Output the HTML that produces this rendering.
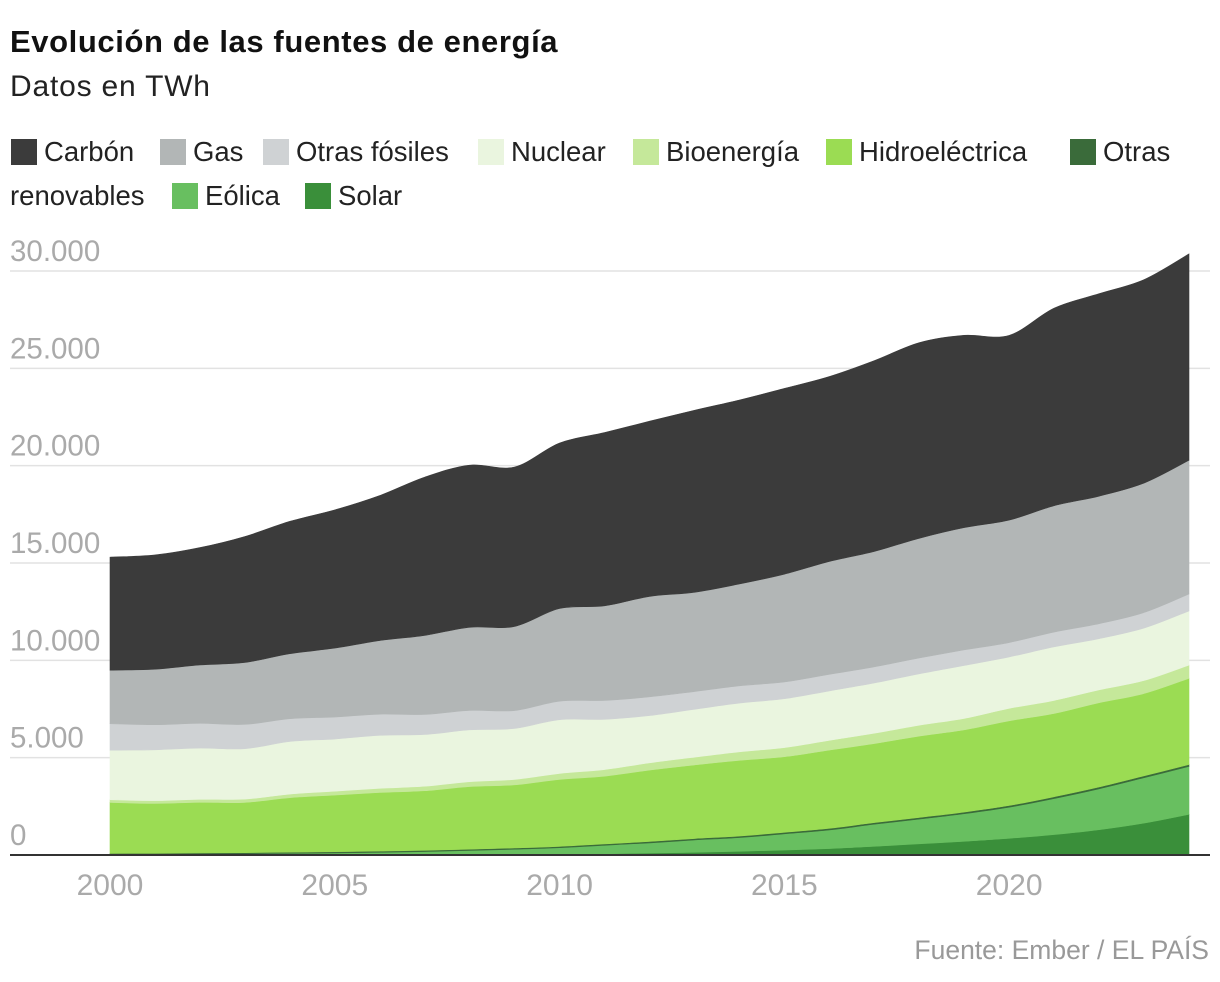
<!DOCTYPE html>
<html><head><meta charset="utf-8"><style>
body{margin:0;background:#fff;font-family:"Liberation Sans",sans-serif;}
#wrap{position:relative;width:1220px;height:982px;overflow:hidden}
.t{position:absolute;white-space:nowrap}
.sq{position:absolute;width:26px;height:26px}
.lt{position:absolute;font-size:27.5px;color:#222;line-height:26px;white-space:nowrap}
</style></head><body>
<div id="wrap">
<div class="t" style="left:10px;top:24px;font-size:31px;font-weight:bold;color:#111;letter-spacing:0.6px">Evolución de las fuentes de energía</div>
<div class="t" style="left:10px;top:70px;font-size:30px;color:#222;letter-spacing:0.8px">Datos en TWh</div>
<div>
<div class="sq" style="left:11px;top:139px;background:#3b3b3b"></div><div class="lt" style="left:44px;top:139px">Carbón</div>
<div class="sq" style="left:160px;top:139px;background:#b2b6b6"></div><div class="lt" style="left:193px;top:139px">Gas</div>
<div class="sq" style="left:263px;top:139px;background:#cfd2d4"></div><div class="lt" style="left:296px;top:139px">Otras fósiles</div>
<div class="sq" style="left:478px;top:139px;background:#eaf5df"></div><div class="lt" style="left:511px;top:139px">Nuclear</div>
<div class="sq" style="left:633px;top:139px;background:#c5e89a"></div><div class="lt" style="left:666px;top:139px">Bioenergía</div>
<div class="sq" style="left:826px;top:139px;background:#9bdc53"></div><div class="lt" style="left:859px;top:139px">Hidroeléctrica</div>
<div class="sq" style="left:1070px;top:139px;background:#3a6b3a"></div><div class="lt" style="left:1103px;top:139px">Otras</div>
<div class="lt" style="left:10px;top:183px">renovables</div>
<div class="sq" style="left:172px;top:183px;background:#68bf60"></div><div class="lt" style="left:205px;top:183px">Eólica</div>
<div class="sq" style="left:305px;top:183px;background:#3a8f3a"></div><div class="lt" style="left:338px;top:183px">Solar</div>
</div>
<svg id="plot" width="1220" height="982" style="position:absolute;left:0;top:0"></svg>
<div class="t" style="right:11px;top:935px;font-size:26.5px;color:#999">Fuente: Ember / EL PAÍS</div>
</div>
<script>
const years=[2000,2001,2002,2003,2004,2005,2006,2007,2008,2009,2010,2011,2012,2013,2014,2015,2016,2017,2018,2019,2020,2021,2022,2023,2024];
const solar=[1,1,2,3,3,4,6,8,12,20,32,63,100,136,190,256,329,445,575,701,856,1050,1300,1640,2090];
const wind=[31,38,52,63,85,104,133,170,220,276,342,437,521,635,706,831,958,1135,1268,1418,1598,1850,2100,2330,2460];
const otherRen=[50,50,52,55,57,60,62,63,65,66,68,70,72,75,77,80,82,85,86,88,90,92,94,96,98];
const hydro=[2620,2560,2600,2580,2800,2910,3010,3060,3220,3240,3440,3480,3670,3780,3890,3880,4020,4060,4180,4220,4350,4280,4330,4230,4430];
const bio=[140,145,155,170,185,200,215,230,250,280,310,340,370,400,440,470,500,530,560,590,640,670,660,670,680];
const nuclear=[2540,2610,2630,2590,2700,2680,2720,2660,2660,2620,2760,2580,2430,2460,2500,2510,2540,2580,2640,2720,2640,2750,2630,2690,2780];
const otherFossil=[1360,1290,1270,1250,1170,1130,1090,1030,1000,920,950,970,960,910,890,860,850,830,810,800,740,760,770,800,870];
const gas=[2750,2850,3000,3180,3340,3540,3780,4060,4270,4320,4760,4860,5160,5100,5230,5540,5800,5930,6150,6280,6290,6490,6550,6650,6870];
const coal=[5810,5870,6030,6470,6800,7100,7450,8130,8330,8190,8500,8900,9000,9350,9450,9540,9500,9800,10050,9880,9490,10150,10400,10450,10600];
const yTicks=[0,5000,10000,15000,20000,25000,30000];
const yTickLabels=["0","5.000","10.000","15.000","20.000","25.000","30.000"];
const xTicks=[2000,2005,2010,2015,2020];

const NS="http://www.w3.org/2000/svg";
const svg=document.getElementById('plot');
const x=v=>110+(v-2000)*(1189-110)/24;
const y=v=>855-v*(855-271)/30000;
function mk(t,a){const e=document.createElementNS(NS,t);for(const k in a)e.setAttribute(k,a[k]);return e;}
yTicks.forEach((v,i)=>{
  if(v>0){const l=mk('line',{x1:10,x2:1210,y1:y(v),y2:y(v),stroke:'#e2e2e2','stroke-width':1.5});
  
  
  svg.appendChild(l);}
});
const series=[
 ['solar',solar,'#3a8f3a'],['eolica',wind,'#68bf60'],['otras-renovables',otherRen,'#3a6b3a'],
 ['hidroelectrica',hydro,'#9bdc53'],['bioenergia',bio,'#c5e89a'],['nuclear',nuclear,'#eaf5df'],
 ['otras-fosiles',otherFossil,'#cfd2d4'],['gas',gas,'#b2b6b6'],['carbon',coal,'#3b3b3b']];
function curve(pts){
  let d='';
  for(let i=0;i<pts.length-1;i++){
    const p0=pts[Math.max(0,i-1)],p1=pts[i],p2=pts[i+1],p3=pts[Math.min(pts.length-1,i+2)];
    const c1=[p1[0]+(p2[0]-p0[0])/6,p1[1]+(p2[1]-p0[1])/6];
    const c2=[p2[0]-(p3[0]-p1[0])/6,p2[1]-(p3[1]-p1[1])/6];
    d+=` C${c1[0]},${c1[1]} ${c2[0]},${c2[1]} ${p2[0]},${p2[1]}`;
  }
  return d;
}
let base=years.map(()=>0);
series.forEach(([name,vals,col])=>{
  const top=base.map((b,i)=>b+vals[i]);
  const tp=years.map((yr,i)=>[x(yr),y(top[i])]);
  const bp=years.map((yr,i)=>[x(yr),y(base[i])]).reverse();
  const d=`M${tp[0][0]},${tp[0][1]}`+curve(tp)+` L${bp[0][0]},${bp[0][1]}`+curve(bp)+'Z';
  const p=mk('path',{d:d,fill:col,stroke:col,'stroke-width':0.6});
  
  
  svg.appendChild(p);
  base=top;
});
yTicks.forEach((v,i)=>{
  const t=mk('text',{x:10,y:y(v)-10,'font-size':29.5,fill:'#aaa','font-family':'Liberation Sans, sans-serif'});
  t.textContent=yTickLabels[i];
  
  
  svg.appendChild(t);
});
const ax=mk('line',{x1:10,x2:1210,y1:855,y2:855,stroke:'#333','stroke-width':2});


svg.appendChild(ax);
xTicks.forEach(v=>{
  const t=mk('text',{x:x(v),y:895,'font-size':30,fill:'#aaa','text-anchor':'middle','font-family':'Liberation Sans, sans-serif'});
  t.textContent=v;
  
  
  svg.appendChild(t);
});
</script>
</body></html>
